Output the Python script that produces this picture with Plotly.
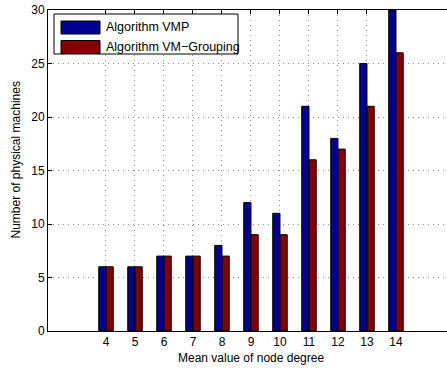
import plotly.graph_objects as go

# Mean node degree and number of physical machines used by each algorithm
degrees = [4, 5, 6, 7, 8, 9, 10, 11, 12, 13, 14]
vmp = [6, 6, 7, 7, 8, 12, 11, 21, 18, 25, 30]
vm_grouping = [6, 6, 7, 7, 7, 9, 9, 16, 17, 21, 26]
series_names = ["Algorithm VMP", "Algorithm VM\u2212Grouping"]
series_colors = ["#00008F", "#800000"]
y_ticks = [0, 5, 10, 15, 20, 25, 30]

FONT = "Liberation Sans, Arial, Helvetica, sans-serif"
PW, PH = 399, 321  # plot area size in pixels

fig = go.Figure()
for name, vals, col in zip(series_names, [vmp, vm_grouping], series_colors):
    fig.add_trace(go.Bar(
        x=degrees, y=vals, name=name,
        marker=dict(color=col, line=dict(color="black", width=1)),
        showlegend=False,
    ))

fig.update_layout(
    width=447, height=368,
    margin=dict(l=48, r=0, t=10, b=37),
    paper_bgcolor="white", plot_bgcolor="white",
    barmode="group", bargap=0.5, bargroupgap=0,
    font=dict(family=FONT, size=12, color="black"),
)

grid = dict(showgrid=True, gridcolor="#8c8c8c", griddash="1px,4px", gridwidth=1)
fig.update_xaxes(
    range=[2, 15.76], tickmode="array", tickvals=degrees,
    ticks="inside", ticklen=4, tickcolor="black",
    showline=True, linecolor="black", linewidth=1, mirror="allticks",
    zeroline=False, tickfont=dict(size=12), **grid,
)
fig.update_yaxes(
    range=[0, 30], tickmode="array", tickvals=y_ticks,
    ticks="inside", ticklen=4, tickcolor="black",
    showline=True, linecolor="black", linewidth=1, mirror=False,
    zeroline=False, tickfont=dict(size=12), **grid,
)

# axis titles
fig.add_annotation(
    x=9, y=0, xref="x", yref="paper", yshift=-18, yanchor="top",
    text="Mean value of node degree", showarrow=False, font=dict(size=12),
)
fig.add_annotation(
    x=0, y=0.5 + 10 / PH, xref="paper", yref="paper", xshift=-33,
    xanchor="center", yanchor="middle", textangle=-90,
    text="Number of physical machines", showarrow=False, font=dict(size=12),
)

# legend box in the upper-left corner
fig.add_shape(type="rect", xref="paper", yref="paper",
              x0=6 / PW, x1=190 / PW, y0=1 - 44 / PH, y1=1 - 4 / PH,
              line=dict(color="black", width=1), fillcolor="white", layer="above")
for i, (name, col) in enumerate(zip(series_names, series_colors)):
    yc = 1 - (17.5 + i * 19.5) / PH
    fig.add_shape(type="rect", xref="paper", yref="paper",
                  x0=13 / PW, x1=52 / PW, y0=yc - 6.5 / PH, y1=yc + 6.5 / PH,
                  line=dict(color="black", width=1), fillcolor=col, layer="above")
    fig.add_annotation(x=56 / PW, y=yc, xref="paper", yref="paper",
                       xanchor="left", yanchor="middle", text=name,
                       showarrow=False, font=dict(size=12.5))

fig.write_html("out.html")
